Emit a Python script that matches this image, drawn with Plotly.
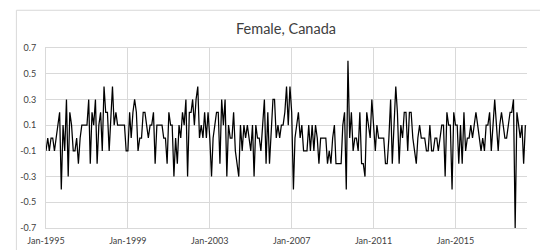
import pandas as pd
import plotly.graph_objects as go

title_text = "Female, Canada"
start_month = "1995-01-01"

values_1995_1998 = [-0.1, 0.0, -0.1, 0.0, 0.0, -0.1, 0.0, 0.1, 0.2, -0.4, 0.1, -0.1,
                    0.3, -0.3, 0.2, 0.1, -0.1, -0.1, 0.0, -0.2, 0.0, 0.1, 0.1, 0.1,
                    0.1, 0.3, -0.2, 0.2, 0.1, 0.3, -0.2, 0.1, 0.2, -0.1, 0.4, 0.2,
                    0.2, -0.1, 0.1, 0.4, 0.1, 0.2, 0.1, 0.1, 0.1, 0.1, 0.1, -0.1]
values_1999_2002 = [-0.1, 0.2, 0.0, 0.2, 0.3, 0.2, -0.1, 0.0, 0.0, 0.2, 0.2, 0.1,
                    0.0, 0.1, 0.1, 0.2, -0.2, 0.1, 0.1, 0.1, 0.1, 0.0, 0.0, -0.2,
                    0.2, 0.1, 0.1, -0.3, 0.0, -0.2, 0.1, 0.0, 0.2, 0.1, 0.3, -0.3,
                    0.2, 0.2, 0.3, 0.1, 0.3, 0.4, 0.0, 0.1, 0.0, 0.2, 0.0, 0.2]
values_2003_2007 = [0.0, -0.3, 0.0, 0.1,
                    0.2, 0.2, -0.2, 0.3, 0.1, 0.3, -0.3, 0.1, 0.0, 0.0,
                    0.2, -0.1, -0.2, -0.3, 0.1, -0.1, 0.1, 0.0, 0.1, 0.0,
                    -0.1, 0.1, -0.3, 0.1, 0.0, 0.0, -0.1, 0.1, 0.3, -0.2,
                    0.2, -0.2, 0.1, 0.3, 0.3, 0.0, 0.1, 0.0, 0.1, 0.1,
                    0.2, 0.4, 0.1, 0.4, 0.2, -0.4, 0.0, 0.1, 0.2, 0.0,
                    0.1, -0.1, -0.1, -0.1, 0.1, -0.1, 0.1]
values_2008_2011 = [-0.1, 0.1, 0.0, -0.2, 0.0, 0.0, 0.0, 0.0, -0.2, -0.1, -0.2, 0.0,
                    0.1, -0.2, -0.2, -0.2, -0.2, 0.1, 0.2, -0.4, 0.6, 0.0, 0.2, -0.1,
                    0.0, 0.0, -0.1, 0.2, -0.2, -0.2, -0.3, 0.2, 0.1, 0.0, 0.3, 0.1,
                    -0.1, 0.1, 0.0, 0.0, 0.0, 0.0, -0.2, -0.2, 0.0, 0.3, -0.2, 0.1]
values_2012_2016 = [0.4, 0.2, -0.2, 0.1, 0.0, 0.2, 0.2, -0.1, 0.2, 0.2, 0.0, -0.1,
                    -0.2, 0.0, 0.1, 0.0, 0.0, 0.0, -0.1, -0.1, 0.1, -0.1, -0.1, 0.0,
                    0.0, -0.1, 0.0, 0.1, 0.1, -0.3, 0.2, 0.1, 0.1, -0.4, 0.2, 0.1,
                    0.1, -0.2, 0.1, -0.2, 0.2, -0.1, 0.0, 0.0, 0.1, 0.0, 0.1, 0.2,
                    0.1, 0.0, -0.1, 0.0, -0.1, 0.1, 0.1, 0.2, -0.1]
values_2016_2018 = [0.1, 0.3, 0.1, -0.1, 0.1, 0.2, 0.1, 0.0, 0.0, 0.1, 0.2, 0.2,
                    0.3, -0.7, 0.2, 0.1, 0.0, 0.1, -0.2, 0.1]

values = (values_1995_1998 + values_1999_2002 + values_2003_2007
          + values_2008_2011 + values_2012_2016 + values_2016_2018)
months = pd.date_range(start_month, periods=len(values), freq="MS")

x_tick_dates = ["1995-01-01", "1999-01-01", "2003-01-01", "2007-01-01", "2011-01-01", "2015-01-01"]
x_tick_labels = ["Jan-1995", "Jan-1999", "Jan-2003", "Jan-2007", "Jan-2011", "Jan-2015"]
y_tick_values = [-0.7, -0.5, -0.3, -0.1, 0.1, 0.3, 0.5, 0.7]
y_tick_labels = ["-0.7", "-0.5", "-0.3", "-0.1", "0.1", "0.3", "0.5", "0.7"]

FONT = "Lato, 'Open Sans', sans-serif"
GRID = "#d9d9d9"
TXT = "#404040"

fig = go.Figure()
fig.add_trace(go.Scatter(x=months, y=values, mode="lines",
                         line=dict(color="#000000", width=1.25),
                         hoverinfo="skip", showlegend=False))

W, H = 548, 250
L, R, T, B = 31.5, 519, 40, 223.7
pw, ph = R - L, B - T

def px_to_paper_x(px):
    return (px - L) / pw

def px_to_paper_y(py):
    return (B - py) / ph

fig.update_layout(
    width=W, height=H,
    margin=dict(l=L, r=W - R, t=T, b=H - B, pad=0),
    paper_bgcolor="white", plot_bgcolor="white",
    font=dict(family=FONT, color=TXT, size=9),
    title=dict(text=title_text, x=278 / W, xref="container", xanchor="center",
               y=1 - 20.5 / H, yanchor="middle",
               font=dict(family=FONT, size=14.5, color=TXT)),
    showlegend=False,
    shapes=[dict(type="rect", xref="paper", yref="paper",
                 x0=px_to_paper_x(1.5), x1=px_to_paper_x(545.5),
                 y0=px_to_paper_y(247), y1=px_to_paper_y(1.5),
                 line=dict(color=GRID, width=1), fillcolor="rgba(0,0,0,0)", layer="above")],
)

fig.update_xaxes(
    type="date", range=["1995-01-01", "2018-06-30"],
    tickmode="array", tickvals=x_tick_dates, ticktext=x_tick_labels,
    showgrid=True, gridcolor=GRID, gridwidth=1,
    showline=True, linecolor=GRID, linewidth=1, mirror=True,
    zeroline=False, ticks="",
    tickfont=dict(family=FONT, size=9, color=TXT),
    ticklabelstandoff=4,
)
fig.update_yaxes(
    range=[-0.7, 0.7],
    tickmode="array", tickvals=y_tick_values, ticktext=y_tick_labels,
    showgrid=True, gridcolor=GRID, gridwidth=1,
    showline=True, linecolor=GRID, linewidth=1, mirror=False,
    zeroline=False, ticks="",
    tickfont=dict(family=FONT, size=9, color=TXT),
    ticklabelstandoff=7,
)

fig.write_html("out.html")
